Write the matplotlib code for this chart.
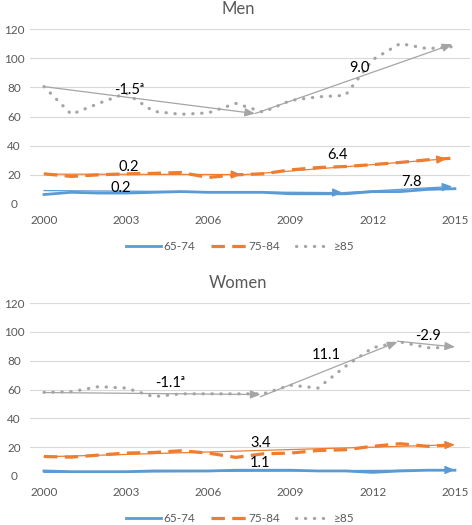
import matplotlib
matplotlib.use("Agg")
import matplotlib.pyplot as plt

plt.rcParams['font.family'] = ['Lato', 'DejaVu Sans']

years = list(range(2000, 2016))
age_groups = ["65-74", "75-84", "\u226585"]

# rates
men_65_74 = [6.5, 8, 7.5, 7.5, 8, 8.5, 8, 8, 8, 7, 7, 7, 8.5, 8.5, 10, 10.5]
men_75_84 = [20.7, 18.9, 20, 20.7, 21, 21.6, 18.2, 20, 20.7, 23.4, 25, 25.7, 27, 28.5, 30.3, 31.5]
men_85 = [80.5, 61.5, 69, 76, 63.5, 61.5, 62.5, 69, 63, 71, 73.5, 74.5, 99, 110, 106.5, 108]

women_65_74 = [3.5, 3, 3, 3, 3.5, 3.5, 3.5, 4, 4, 4, 3.5, 3.5, 2.5, 3.5, 4, 4]
women_75_84 = [13.5, 13.1, 14.5, 15.9, 16.3, 17.5, 15.9, 12.9, 15.4, 15.9, 17.7, 18.2, 20.6, 22.4, 20.6, 21.7]
women_85 = [58, 58.5, 62, 61, 55, 57, 57, 57, 57, 63, 61, 76, 89, 93, 89, 89]

# joinpoint trend segments: (x0, y0, x1, y1) per age group
men_trends = [
    [(2000, 9.2, 2010.9, 7.8), (2010.9, 7.8, 2014.9, 12)],
    [(2000, 20.5, 2007.2, 20.2), (2007.2, 20, 2014.7, 31)],
    [(2000, 80.5, 2007.7, 62), (2007.7, 62, 2014.9, 109.5)],
]
women_trends = [
    [(2000, 2.5, 2015, 4.2)],
    [(2000, 13.3, 2015, 21.7)],
    [(2000, 57.9, 2007.9, 56.5), (2007.9, 55, 2012.9, 93), (2012.9, 93.5, 2015, 89.5)],
]

# annual percent change labels: (x, y, text)
men_labels = [(2002.8, 11, "0.2"), (2013.4, 15, "7.8"),
              (2003.1, 25.7, "0.2"), (2010.7, 33.8, "6.4"),
              (2003.1, 78, "-1.5\u1d43"), (2011.5, 93.6, "9.0")]
women_labels = [(2007.9, 9.3, "1.1"), (2007.9, 22.8, "3.4"),
                (2004.6, 64.4, "-1.1\u1d43"), (2010.3, 84, "11.1"),
                (2014.0, 96.8, "-2.9")]

colors = ["#5B9BD5", "#ED7D31", "#A5A5A5"]
styles = [dict(linestyle='-', linewidth=2.0),
          dict(linestyle=(0, (4.2, 2.3)), linewidth=2.3, dash_capstyle='butt'),
          dict(linestyle=(0, (0.1, 2.7)), linewidth=2.3, dash_capstyle='round')]

fig = plt.figure(figsize=(4.72, 5.25), dpi=100)


def draw_panel(rect, title, title_y, series, trends, labels, legend_y):
    ax = fig.add_axes(rect)
    lines = []
    for vals, c, st in zip(series, colors, styles):
        ln, = ax.plot(years, vals, color=c, **st)
        lines.append(ln)
    for segs, c in zip(trends, colors):
        for x0, y0, x1, y1 in segs:
            ax.annotate("", xy=(x1, y1), xytext=(x0, y0),
                        arrowprops=dict(arrowstyle='-|>,head_length=0.6,head_width=0.25',
                                        color=c, lw=0.9, shrinkA=0, shrinkB=0))
    for x, y, t in labels:
        ax.text(x, y, t, ha='center', va='center', fontsize=10.5, color='black')
    ax.set_xlim(1999.49, 2015.55)
    ax.set_ylim(0, 120)
    ax.set_yticks(range(0, 121, 20))
    ax.set_xticks(range(2000, 2016, 3))
    ax.grid(axis='y', color='#D9D9D9', linewidth=0.8)
    ax.set_axisbelow(True)
    for s in ax.spines.values():
        s.set_visible(False)
    ax.tick_params(length=0, labelsize=8.5, labelcolor='#595959')
    ax.tick_params(axis='y', pad=11.5)
    ax.tick_params(axis='x', pad=8)
    for lab in ax.get_yticklabels():
        lab.set_horizontalalignment('center')
    fig.text(238 / 472, title_y, title, ha='center', va='center',
             fontsize=12, color='#595959')
    fig.legend(lines, age_groups, loc='center', bbox_to_anchor=(240 / 472, legend_y),
               ncol=3, frameon=False, fontsize=8.5, labelcolor='#595959',
               handlelength=3.0, handletextpad=0.2, columnspacing=1.3)
    return ax


draw_panel([30 / 472, 1 - 204 / 525, 440 / 472, 175 / 525], "Men", 1 - 9 / 525,
           [men_65_74, men_75_84, men_85], men_trends, men_labels, 1 - 247 / 525)
draw_panel([30 / 472, 1 - 476 / 525, 440 / 472, 173 / 525], "Women", 1 - 283 / 525,
           [women_65_74, women_75_84, women_85], women_trends, women_labels, 1 - 519 / 525)

fig.savefig("out.png", dpi=100)
